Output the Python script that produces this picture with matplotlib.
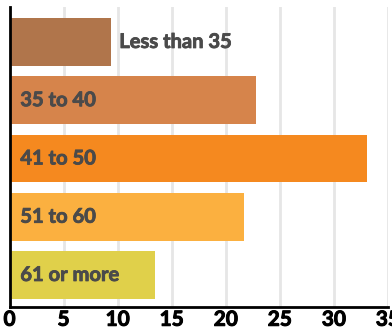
import matplotlib
matplotlib.use('Agg')
import matplotlib.pyplot as plt
import matplotlib.patheffects as pe

# age groups and their shares
groups = ['Less than 35', '35 to 40', '41 to 50', '51 to 60', '61 or more']
values = [9.4, 22.8, 33.1, 21.7, 13.5]
colors = ['#b0754b', '#d6844b', '#f5891f', '#fbb040', '#e0d04a']
ticks = [0, 5, 10, 15, 20, 25, 30, 35]

plt.rcParams['font.family'] = ['Lato', 'DejaVu Sans']

fig = plt.figure(figsize=(3.92, 3.31), dpi=100)
ax = fig.add_axes([9.5 / 392, 24 / 331, 378.5 / 392, 300 / 331])

ypos = list(range(len(groups)))
ax.barh(ypos, values, height=0.82, color=colors, zorder=2)

# a thin stroke makes the bold text a touch heavier
label_fx = [pe.withStroke(linewidth=0.6, foreground='#4a4a4a')]
tick_fx = [pe.withStroke(linewidth=0.7, foreground='black')]

# first label sits right of its short bar, the rest inside
for y, v, g in zip(ypos, values, groups):
    x = v + 0.75 if y == 0 else 1.0
    ax.text(x, y, g, va='center', ha='left', fontsize=14.5,
            fontweight='bold', color='#4a4a4a', zorder=3,
            path_effects=label_fx)

ax.set_xlim(0, 35)
ax.set_ylim(len(groups) - 0.45, -0.6)
ax.set_xticks(ticks)
ax.set_xticklabels([str(t) for t in ticks], fontsize=15, fontweight='bold')
for lbl in ax.get_xticklabels():
    lbl.set_path_effects(tick_fx)
ax.set_yticks([])
ax.tick_params(axis='x', length=0, pad=2)
ax.grid(axis='x', color='#e6e6e6', linewidth=2, zorder=0)

for s in ['top', 'right']:
    ax.spines[s].set_visible(False)
ax.spines['left'].set_linewidth(2)
ax.spines['bottom'].set_linewidth(2)
ax.spines['left'].set_zorder(4)

fig.savefig('out.png', dpi=100)
